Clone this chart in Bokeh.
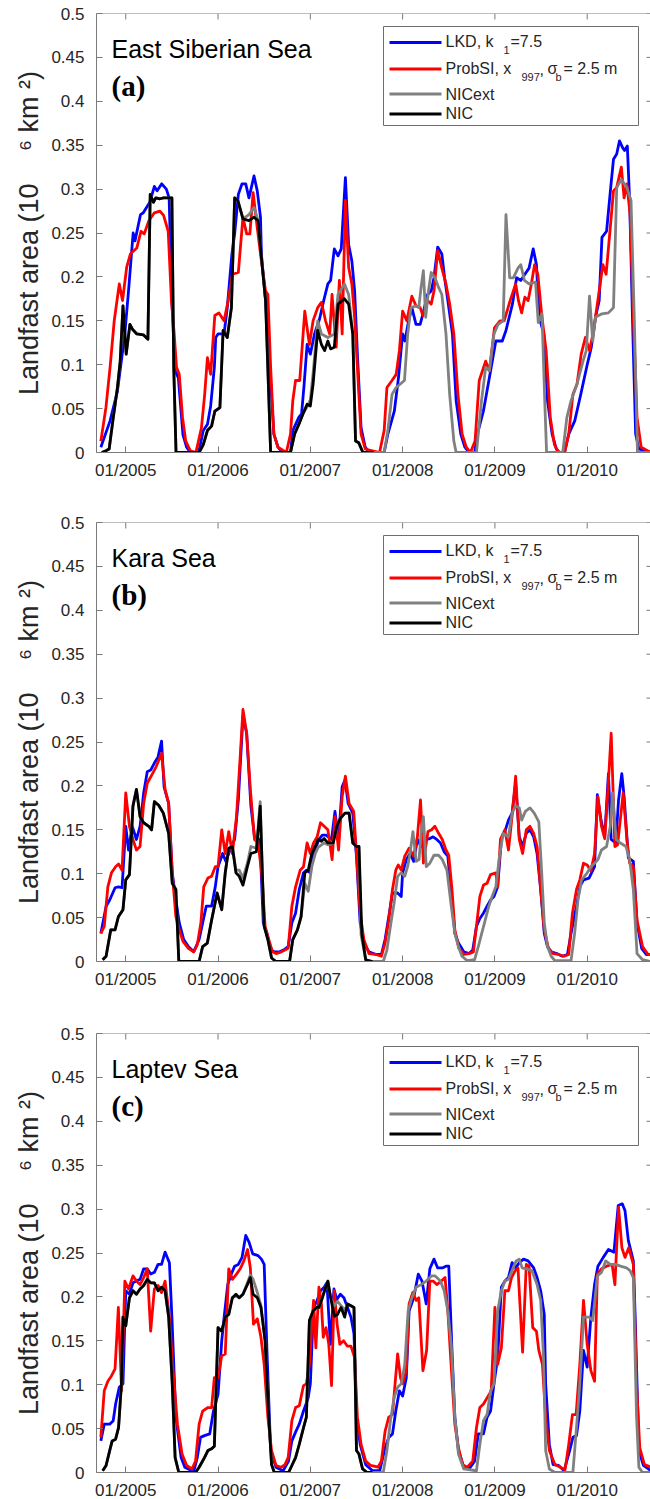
from bokeh.plotting import figure
from bokeh.models import Range1d, FixedTicker, Span
from bokeh.core.properties import value
from bokeh.layouts import column
from bokeh.embed import file_html
from bokeh.resources import INLINE

# ---------------- tick labels / names ----------------
YEAR_TICKS = [2005, 2006, 2007, 2008, 2009, 2010]
YEAR_LABELS = ["01/2005", "01/2006", "01/2007", "01/2008", "01/2009", "01/2010"]
Y_TICKS = [0, 0.05, 0.1, 0.15, 0.2, 0.25, 0.3, 0.35, 0.4, 0.45, 0.5]
Y_LABELS = ["0", "0.05", "0.1", "0.15", "0.2", "0.25", "0.3", "0.35", "0.4", "0.45", "0.5"]
Y_TITLE = "Landfast area (10\u2003\u2009\u2076\u00a0km\u00a0\u00b2)"
PANEL_NAMES = ["East Siberian Sea", "Kara Sea", "Laptev Sea"]
PANEL_LETTERS = ["(a)", "(b)", "(c)"]

# ---------------- data: (decimal year, area 10^6 km^2) ----------------
ESS_LKD = [(2004.73, 0.006), (2004.83, 0.036), (2004.91, 0.07), (2004.99, 0.135), (2005.03, 0.184), (2005.08, 0.25),
           (2005.10, 0.241), (2005.16, 0.271), (2005.19, 0.273), (2005.26, 0.285), (2005.31, 0.303), (2005.34, 0.298),
           (2005.39, 0.306), (2005.44, 0.30), (2005.47, 0.29), (2005.50, 0.173), (2005.535, 0.093), (2005.57, 0.085),
           (2005.62, 0.02), (2005.66, 0.006), (2005.70, 0.0), (2005.79, 0.0), (2005.84, 0.025), (2005.885, 0.032),
           (2005.92, 0.053), (2005.96, 0.097), (2005.975, 0.131), (2006.0, 0.135), (2006.065, 0.135), (2006.10, 0.165),
           (2006.15, 0.226), (2006.18, 0.249), (2006.22, 0.294), (2006.26, 0.306), (2006.30, 0.306), (2006.335, 0.29),
           (2006.39, 0.315), (2006.425, 0.298), (2006.46, 0.268), (2006.47, 0.226), (2006.515, 0.173), (2006.56, 0.097),
           (2006.605, 0.021), (2006.65, 0.006), (2006.70, 0.0), (2006.785, 0.0), (2006.81, 0.025), (2006.875, 0.04),
           (2006.905, 0.044), (2006.93, 0.074), (2006.965, 0.123), (2007.0, 0.112), (2007.045, 0.135), (2007.10, 0.152),
           (2007.145, 0.173), (2007.19, 0.192), (2007.22, 0.196), (2007.26, 0.232), (2007.30, 0.224), (2007.335, 0.232),
           (2007.38, 0.313), (2007.415, 0.237), (2007.45, 0.218), (2007.48, 0.184), (2007.51, 0.112), (2007.55, 0.028),
           (2007.595, 0.006), (2007.64, 0.0), (2007.80, 0.0), (2007.84, 0.021), (2007.91, 0.047), (2007.955, 0.085),
           (2008.0, 0.135), (2008.025, 0.127), (2008.065, 0.15), (2008.10, 0.165), (2008.145, 0.146), (2008.19, 0.146),
           (2008.22, 0.158), (2008.27, 0.18), (2008.31, 0.184), (2008.34, 0.199), (2008.38, 0.234), (2008.425, 0.226),
           (2008.455, 0.199), (2008.49, 0.173), (2008.54, 0.135), (2008.58, 0.059), (2008.63, 0.021), (2008.675, 0.006),
           (2008.72, 0.0), (2008.78, 0.0), (2008.81, 0.021), (2008.875, 0.047), (2008.94, 0.085), (2009.01, 0.127),
           (2009.08, 0.127), (2009.12, 0.139), (2009.19, 0.169), (2009.235, 0.199), (2009.28, 0.196), (2009.325, 0.203),
           (2009.37, 0.21), (2009.415, 0.232), (2009.45, 0.214), (2009.48, 0.154), (2009.53, 0.135), (2009.57, 0.059),
           (2009.62, 0.021), (2009.665, 0.004), (2009.70, 0.0), (2009.755, 0.0), (2009.80, 0.021), (2009.865, 0.036),
           (2009.93, 0.066), (2010.0, 0.10), (2010.045, 0.12), (2010.09, 0.154), (2010.13, 0.173), (2010.16, 0.245),
           (2010.21, 0.252), (2010.255, 0.302), (2010.285, 0.334), (2010.32, 0.34), (2010.35, 0.355), (2010.385, 0.347),
           (2010.405, 0.344), (2010.435, 0.349), (2010.46, 0.287), (2010.495, 0.135), (2010.525, 0.021), (2010.56, 0.004),
           (2010.69, 0.0)]

ESS_PSI = [(2004.73, 0.013), (2004.785, 0.051), (2004.83, 0.097), (2004.875, 0.15), (2004.93, 0.192), (2004.965, 0.173),
           (2005.01, 0.211), (2005.05, 0.226), (2005.12, 0.233), (2005.165, 0.252), (2005.20, 0.249), (2005.25, 0.264),
           (2005.31, 0.273), (2005.37, 0.275), (2005.41, 0.27), (2005.46, 0.252), (2005.495, 0.173), (2005.525, 0.135),
           (2005.55, 0.097), (2005.58, 0.089), (2005.615, 0.04), (2005.65, 0.013), (2005.70, 0.002), (2005.76, 0.0),
           (2005.82, 0.028), (2005.855, 0.066), (2005.885, 0.108), (2005.92, 0.089), (2005.965, 0.156), (2006.01, 0.159),
           (2006.065, 0.15), (2006.11, 0.173), (2006.155, 0.203), (2006.22, 0.205), (2006.27, 0.268), (2006.31, 0.249),
           (2006.345, 0.249), (2006.38, 0.296), (2006.425, 0.256), (2006.47, 0.218), (2006.515, 0.184), (2006.54, 0.18),
           (2006.57, 0.097), (2006.605, 0.021), (2006.65, 0.006), (2006.74, 0.0), (2006.785, 0.021), (2006.81, 0.059),
           (2006.84, 0.082), (2006.885, 0.082), (2006.94, 0.161), (2006.99, 0.123), (2007.03, 0.15), (2007.08, 0.165),
           (2007.12, 0.171), (2007.165, 0.15), (2007.21, 0.135), (2007.235, 0.18), (2007.28, 0.12), (2007.315, 0.196),
           (2007.345, 0.135), (2007.38, 0.287), (2007.415, 0.211), (2007.45, 0.192), (2007.48, 0.154), (2007.51, 0.097),
           (2007.55, 0.021), (2007.595, 0.004), (2007.75, 0.0), (2007.80, 0.025), (2007.83, 0.074), (2007.885, 0.082),
           (2007.93, 0.089), (2007.965, 0.116), (2008.0, 0.161), (2008.045, 0.15), (2008.10, 0.178), (2008.145, 0.167),
           (2008.19, 0.165), (2008.22, 0.156), (2008.27, 0.173), (2008.31, 0.169), (2008.34, 0.184), (2008.38, 0.23),
           (2008.425, 0.21), (2008.47, 0.192), (2008.51, 0.169), (2008.555, 0.135), (2008.60, 0.066), (2008.645, 0.021),
           (2008.69, 0.006), (2008.735, 0.0), (2008.785, 0.013), (2008.83, 0.082), (2008.90, 0.104), (2008.94, 0.093),
           (2008.995, 0.142), (2009.055, 0.15), (2009.10, 0.15), (2009.165, 0.173), (2009.225, 0.192), (2009.255, 0.173),
           (2009.29, 0.159), (2009.325, 0.177), (2009.36, 0.173), (2009.395, 0.192), (2009.43, 0.214), (2009.465, 0.203),
           (2009.51, 0.154), (2009.555, 0.116), (2009.60, 0.04), (2009.645, 0.009), (2009.69, 0.0), (2009.755, 0.0),
           (2009.80, 0.021), (2009.845, 0.066), (2009.89, 0.078), (2009.935, 0.112), (2009.98, 0.131), (2010.025, 0.116),
           (2010.07, 0.139), (2010.115, 0.173), (2010.17, 0.214), (2010.205, 0.203), (2010.25, 0.256), (2010.285, 0.298),
           (2010.32, 0.302), (2010.37, 0.325), (2010.40, 0.29), (2010.43, 0.306), (2010.465, 0.271), (2010.50, 0.154),
           (2010.54, 0.04), (2010.585, 0.006), (2010.69, 0.0)]

ESS_NIC = [(2004.74, 0.0), (2004.785, 0.002), (2004.82, 0.004), (2004.86, 0.036), (2004.91, 0.074), (2004.94, 0.104),
           (2004.97, 0.167), (2005.005, 0.112), (2005.045, 0.146), (2005.075, 0.14), (2005.12, 0.135), (2005.19, 0.134),
           (2005.24, 0.129), (2005.265, 0.294), (2005.30, 0.285), (2005.325, 0.29), (2005.37, 0.289), (2005.41, 0.29),
           (2005.50, 0.29), (2005.52, 0.097), (2005.545, 0.0), (2005.795, 0.0), (2005.84, 0.009), (2005.885, 0.025),
           (2005.93, 0.03), (2005.965, 0.047), (2006.02, 0.051), (2006.055, 0.139), (2006.10, 0.131), (2006.145, 0.165),
           (2006.18, 0.29), (2006.215, 0.287), (2006.27, 0.266), (2006.335, 0.264), (2006.39, 0.268), (2006.435, 0.264),
           (2006.47, 0.222), (2006.515, 0.173), (2006.57, 0.0), (2006.785, 0.0), (2006.83, 0.021), (2006.875, 0.032),
           (2006.92, 0.044), (2006.965, 0.055), (2007.0, 0.053), (2007.03, 0.078), (2007.08, 0.139), (2007.12, 0.123),
           (2007.155, 0.116), (2007.19, 0.127), (2007.22, 0.118), (2007.26, 0.12), (2007.30, 0.169), (2007.37, 0.175),
           (2007.415, 0.169), (2007.46, 0.135), (2007.49, 0.013), (2007.525, 0.011), (2007.57, 0.0), (2007.685, 0.0)]

ESS_EXT = [(2004.74, 0.0), (2004.785, 0.002), (2004.82, 0.004), (2004.86, 0.036), (2004.91, 0.074), (2004.94, 0.104),
           (2004.97, 0.167), (2005.005, 0.112), (2005.045, 0.146), (2005.075, 0.14), (2005.12, 0.135), (2005.19, 0.134),
           (2005.24, 0.129), (2005.265, 0.294), (2005.30, 0.285), (2005.325, 0.29), (2005.37, 0.289), (2005.41, 0.29),
           (2005.50, 0.29), (2005.52, 0.097), (2005.545, 0.0), (2005.795, 0.0), (2005.84, 0.009), (2005.885, 0.025),
           (2005.93, 0.03), (2005.965, 0.047), (2006.02, 0.051), (2006.055, 0.139), (2006.10, 0.131), (2006.145, 0.165),
           (2006.18, 0.29), (2006.215, 0.287), (2006.27, 0.266), (2006.335, 0.271), (2006.39, 0.279), (2006.435, 0.264),
           (2006.47, 0.222), (2006.515, 0.173), (2006.57, 0.0), (2006.785, 0.0), (2006.83, 0.021), (2006.875, 0.032),
           (2006.92, 0.044), (2006.965, 0.052), (2007.0, 0.06), (2007.03, 0.09), (2007.08, 0.15), (2007.12, 0.135),
           (2007.19, 0.131), (2007.26, 0.135), (2007.30, 0.18), (2007.37, 0.192), (2007.415, 0.18), (2007.46, 0.135),
           (2007.49, 0.013), (2007.525, 0.011), (2007.57, 0.0), (2007.80, 0.0), (2007.84, 0.025), (2007.885, 0.066),
           (2007.93, 0.074), (2007.975, 0.078), (2008.02, 0.082), (2008.055, 0.135), (2008.09, 0.165), (2008.145, 0.167),
           (2008.175, 0.165), (2008.20, 0.188), (2008.225, 0.207), (2008.25, 0.154), (2008.28, 0.184), (2008.31, 0.205),
           (2008.35, 0.199), (2008.39, 0.188), (2008.425, 0.18), (2008.47, 0.135), (2008.51, 0.066), (2008.555, 0.013),
           (2008.58, 0.0), (2008.80, 0.0), (2008.855, 0.059), (2008.90, 0.097), (2008.94, 0.093), (2008.99, 0.135),
           (2009.035, 0.146), (2009.09, 0.15), (2009.12, 0.271), (2009.16, 0.199), (2009.20, 0.199), (2009.25, 0.21),
           (2009.28, 0.214), (2009.32, 0.196), (2009.37, 0.192), (2009.44, 0.194), (2009.47, 0.148), (2009.51, 0.158),
           (2009.54, 0.059), (2009.56, 0.0), (2009.735, 0.0), (2009.78, 0.04), (2009.825, 0.059), (2009.89, 0.078),
           (2009.955, 0.104), (2009.99, 0.116), (2010.025, 0.178), (2010.06, 0.127), (2010.09, 0.154), (2010.16, 0.158),
           (2010.23, 0.159), (2010.285, 0.165), (2010.32, 0.302), (2010.37, 0.311), (2010.43, 0.302), (2010.475, 0.287),
           (2010.51, 0.154), (2010.545, 0.0), (2010.69, 0.0)]

KARA_LKD = [(2004.73, 0.032), (2004.787, 0.063), (2004.826, 0.07), (2004.884, 0.084), (2004.922, 0.085), (2004.96, 0.084),
            (2005.0, 0.154), (2005.03, 0.127), (2005.07, 0.154), (2005.116, 0.139), (2005.155, 0.154), (2005.194, 0.192),
            (2005.233, 0.216), (2005.27, 0.218), (2005.31, 0.226), (2005.35, 0.233), (2005.388, 0.251), (2005.415, 0.199),
            (2005.465, 0.18), (2005.504, 0.101), (2005.543, 0.07), (2005.58, 0.044), (2005.628, 0.025), (2005.678, 0.017),
            (2005.736, 0.011), (2005.795, 0.025), (2005.833, 0.044), (2005.872, 0.063), (2005.93, 0.063), (2005.97, 0.085),
            (2006.0, 0.108), (2006.05, 0.123), (2006.085, 0.114), (2006.143, 0.131), (2006.18, 0.139), (2006.22, 0.184),
            (2006.27, 0.279), (2006.31, 0.26), (2006.356, 0.177), (2006.395, 0.142), (2006.453, 0.139), (2006.49, 0.044),
            (2006.53, 0.032), (2006.57, 0.013), (2006.61, 0.011), (2006.667, 0.011), (2006.725, 0.014), (2006.76, 0.017),
            (2006.80, 0.044), (2006.84, 0.055), (2006.88, 0.082), (2006.926, 0.101), (2006.957, 0.104), (2007.0, 0.101),
            (2007.035, 0.123), (2007.093, 0.139), (2007.13, 0.144), (2007.17, 0.144), (2007.23, 0.139), (2007.267, 0.171),
            (2007.306, 0.139), (2007.345, 0.199), (2007.376, 0.207), (2007.41, 0.18), (2007.46, 0.169), (2007.50, 0.12),
            (2007.54, 0.044), (2007.58, 0.021), (2007.635, 0.011), (2007.713, 0.008), (2007.77, 0.008), (2007.81, 0.025),
            (2007.85, 0.051), (2007.89, 0.078), (2007.946, 0.078), (2007.985, 0.074), (2008.0, 0.101), (2008.04, 0.116),
            (2008.08, 0.123), (2008.12, 0.114), (2008.16, 0.139), (2008.2, 0.131), (2008.255, 0.139), (2008.295, 0.14),
            (2008.33, 0.142), (2008.37, 0.139), (2008.41, 0.135), (2008.45, 0.125), (2008.49, 0.12), (2008.527, 0.078),
            (2008.566, 0.032), (2008.605, 0.021), (2008.663, 0.011), (2008.72, 0.009), (2008.76, 0.013), (2008.8, 0.04),
            (2008.837, 0.049), (2008.876, 0.055), (2008.915, 0.063), (2008.953, 0.07), (2008.99, 0.074), (2009.03, 0.085),
            (2009.07, 0.139), (2009.108, 0.148), (2009.147, 0.161), (2009.186, 0.169), (2009.225, 0.203), (2009.264, 0.142),
            (2009.3, 0.131), (2009.34, 0.146), (2009.38, 0.15), (2009.42, 0.142), (2009.457, 0.123), (2009.496, 0.082),
            (2009.535, 0.032), (2009.57, 0.017), (2009.61, 0.011), (2009.67, 0.009), (2009.73, 0.006), (2009.786, 0.008),
            (2009.825, 0.032), (2009.884, 0.063), (2009.92, 0.085), (2009.96, 0.093), (2010.02, 0.095), (2010.08, 0.108),
            (2010.11, 0.19), (2010.15, 0.161), (2010.19, 0.142), (2010.23, 0.214), (2010.26, 0.139), (2010.31, 0.135),
            (2010.34, 0.184), (2010.375, 0.214), (2010.4, 0.188), (2010.446, 0.118), (2010.5, 0.114), (2010.54, 0.044),
            (2010.59, 0.015), (2010.64, 0.008), (2010.69, 0.008)]

KARA_PSI = [(2004.73, 0.032), (2004.767, 0.04), (2004.806, 0.085), (2004.845, 0.101), (2004.89, 0.108), (2004.922, 0.111),
            (2004.96, 0.104), (2005.0, 0.192), (2005.04, 0.154), (2005.078, 0.139), (2005.116, 0.127), (2005.155, 0.131),
            (2005.194, 0.18), (2005.233, 0.203), (2005.29, 0.214), (2005.33, 0.222), (2005.388, 0.237), (2005.426, 0.196),
            (2005.465, 0.18), (2005.504, 0.101), (2005.543, 0.051), (2005.58, 0.036), (2005.62, 0.023), (2005.678, 0.015),
            (2005.736, 0.011), (2005.775, 0.019), (2005.814, 0.044), (2005.845, 0.085), (2005.89, 0.095), (2005.93, 0.097),
            (2005.97, 0.108), (2006.0, 0.108), (2006.04, 0.15), (2006.078, 0.123), (2006.116, 0.148), (2006.155, 0.123),
            (2006.2, 0.165), (2006.24, 0.233), (2006.27, 0.287), (2006.31, 0.26), (2006.35, 0.196), (2006.395, 0.139),
            (2006.434, 0.135), (2006.473, 0.101), (2006.51, 0.04), (2006.55, 0.025), (2006.59, 0.011), (2006.628, 0.009),
            (2006.686, 0.011), (2006.725, 0.013), (2006.76, 0.015), (2006.80, 0.063), (2006.84, 0.085), (2006.89, 0.104),
            (2006.926, 0.108), (2006.965, 0.135), (2007.0, 0.123), (2007.035, 0.135), (2007.074, 0.142), (2007.11, 0.158),
            (2007.15, 0.154), (2007.19, 0.15), (2007.236, 0.116), (2007.267, 0.165), (2007.306, 0.127), (2007.345, 0.188),
            (2007.38, 0.211), (2007.42, 0.18), (2007.47, 0.171), (2007.5, 0.123), (2007.54, 0.055), (2007.58, 0.025),
            (2007.635, 0.009), (2007.713, 0.008), (2007.77, 0.006), (2007.81, 0.021), (2007.85, 0.047), (2007.89, 0.082),
            (2007.926, 0.104), (2007.953, 0.11), (2007.985, 0.104), (2008.023, 0.12), (2008.07, 0.129), (2008.12, 0.12),
            (2008.16, 0.142), (2008.194, 0.184), (2008.225, 0.112), (2008.275, 0.148), (2008.314, 0.15), (2008.35, 0.154),
            (2008.39, 0.146), (2008.43, 0.139), (2008.47, 0.127), (2008.5, 0.121), (2008.535, 0.082), (2008.566, 0.036),
            (2008.61, 0.015), (2008.663, 0.008), (2008.72, 0.009), (2008.767, 0.011), (2008.8, 0.04), (2008.837, 0.074),
            (2008.876, 0.087), (2008.915, 0.089), (2008.953, 0.099), (2009.01, 0.101), (2009.03, 0.085), (2009.06, 0.139),
            (2009.108, 0.15), (2009.147, 0.127), (2009.186, 0.165), (2009.225, 0.211), (2009.264, 0.139), (2009.3, 0.123),
            (2009.34, 0.15), (2009.38, 0.154), (2009.42, 0.146), (2009.457, 0.131), (2009.496, 0.082), (2009.535, 0.036),
            (2009.58, 0.015), (2009.63, 0.009), (2009.69, 0.008), (2009.75, 0.006), (2009.8, 0.008), (2009.84, 0.055),
            (2009.884, 0.082), (2009.92, 0.093), (2009.96, 0.112), (2010.0, 0.11), (2010.04, 0.103), (2010.08, 0.123),
            (2010.116, 0.188), (2010.155, 0.154), (2010.19, 0.14), (2010.225, 0.196), (2010.26, 0.26), (2010.3, 0.131),
            (2010.33, 0.133), (2010.39, 0.192), (2010.43, 0.139), (2010.46, 0.112), (2010.5, 0.108), (2010.54, 0.047),
            (2010.6, 0.017), (2010.66, 0.008), (2010.69, 0.008)]

KARA_NIC = [(2004.75, 0.002), (2004.787, 0.006), (2004.837, 0.036), (2004.884, 0.036), (2004.92, 0.051), (2004.97, 0.059),
            (2005.0, 0.093), (2005.04, 0.099), (2005.078, 0.177), (2005.116, 0.196), (2005.155, 0.165), (2005.194, 0.158),
            (2005.25, 0.154), (2005.28, 0.15), (2005.31, 0.182), (2005.357, 0.178), (2005.407, 0.169), (2005.465, 0.146),
            (2005.504, 0.089), (2005.543, 0.082), (2005.575, 0.0), (2005.795, 0.0), (2005.833, 0.017), (2005.884, 0.021),
            (2005.93, 0.047), (2005.99, 0.078), (2006.04, 0.059), (2006.078, 0.101), (2006.116, 0.129), (2006.155, 0.131),
            (2006.194, 0.101), (2006.23, 0.097), (2006.27, 0.087), (2006.318, 0.108), (2006.356, 0.123), (2006.415, 0.125),
            (2006.457, 0.177), (2006.48, 0.101), (2006.5, 0.04), (2006.54, 0.025), (2006.58, 0.004), (2006.628, 0.0),
            (2006.775, 0.0), (2006.81, 0.025), (2006.86, 0.036), (2006.9, 0.051), (2006.94, 0.101), (2006.977, 0.104),
            (2007.016, 0.123), (2007.054, 0.131), (2007.085, 0.139), (2007.12, 0.137), (2007.15, 0.14), (2007.19, 0.135),
            (2007.248, 0.135), (2007.287, 0.154), (2007.325, 0.163), (2007.376, 0.169), (2007.42, 0.169), (2007.46, 0.135),
            (2007.5, 0.131), (2007.527, 0.131), (2007.558, 0.032), (2007.6, 0.002), (2007.674, 0.0)]

KARA_EXT = [(2004.75, 0.002), (2004.787, 0.006), (2004.837, 0.036), (2004.884, 0.036), (2004.92, 0.051), (2004.97, 0.059),
            (2005.0, 0.093), (2005.04, 0.099), (2005.078, 0.177), (2005.116, 0.196), (2005.155, 0.165), (2005.194, 0.158),
            (2005.25, 0.154), (2005.28, 0.15), (2005.31, 0.182), (2005.357, 0.178), (2005.407, 0.169), (2005.465, 0.146),
            (2005.504, 0.089), (2005.543, 0.082), (2005.575, 0.0), (2005.795, 0.0), (2005.833, 0.017), (2005.884, 0.021),
            (2005.93, 0.047), (2005.99, 0.078), (2006.04, 0.059), (2006.078, 0.101), (2006.116, 0.129), (2006.155, 0.131),
            (2006.194, 0.104), (2006.23, 0.104), (2006.27, 0.095), (2006.318, 0.112), (2006.356, 0.131), (2006.415, 0.129),
            (2006.457, 0.182), (2006.48, 0.101), (2006.5, 0.04), (2006.54, 0.025), (2006.58, 0.004), (2006.628, 0.0),
            (2006.775, 0.0), (2006.81, 0.025), (2006.86, 0.036), (2006.9, 0.051), (2006.94, 0.089), (2006.977, 0.08),
            (2007.016, 0.108), (2007.054, 0.123), (2007.085, 0.13), (2007.15, 0.135), (2007.19, 0.133), (2007.248, 0.135),
            (2007.287, 0.154), (2007.325, 0.163), (2007.376, 0.169), (2007.42, 0.169), (2007.46, 0.135), (2007.5, 0.131),
            (2007.527, 0.131), (2007.55, 0.03), (2007.6, 0.002), (2007.674, 0.0), (2007.79, 0.0), (2007.83, 0.013),
            (2007.868, 0.04), (2007.907, 0.066), (2007.946, 0.097), (2007.985, 0.101), (2008.023, 0.097), (2008.054, 0.108),
            (2008.08, 0.123), (2008.112, 0.148), (2008.147, 0.114), (2008.178, 0.116), (2008.2, 0.146), (2008.225, 0.165),
            (2008.256, 0.108), (2008.295, 0.112), (2008.34, 0.121), (2008.39, 0.121), (2008.43, 0.116), (2008.48, 0.104),
            (2008.527, 0.063), (2008.566, 0.032), (2008.605, 0.017), (2008.643, 0.006), (2008.7, 0.001), (2008.78, 0.002),
            (2008.82, 0.017), (2008.857, 0.032), (2008.895, 0.047), (2008.934, 0.063), (2008.97, 0.074), (2009.01, 0.085),
            (2009.05, 0.12), (2009.09, 0.146), (2009.147, 0.142), (2009.186, 0.169), (2009.225, 0.177), (2009.264, 0.175),
            (2009.29, 0.161), (2009.33, 0.171), (2009.38, 0.175), (2009.426, 0.169), (2009.476, 0.159), (2009.507, 0.101),
            (2009.535, 0.044), (2009.57, 0.017), (2009.61, 0.006), (2009.65, 0.001), (2009.825, 0.001), (2009.864, 0.032),
            (2009.9, 0.07), (2009.94, 0.093), (2010.0, 0.101), (2010.04, 0.108), (2010.08, 0.112), (2010.116, 0.116),
            (2010.155, 0.127), (2010.21, 0.131), (2010.25, 0.154), (2010.275, 0.192), (2010.314, 0.139), (2010.36, 0.135),
            (2010.42, 0.131), (2010.46, 0.116), (2010.5, 0.082), (2010.54, 0.009), (2010.6, 0.002), (2010.69, 0.0)]

LAP_LKD = [(2004.73, 0.036), (2004.767, 0.055), (2004.826, 0.055), (2004.864, 0.059), (2004.89, 0.078), (2004.93, 0.097),
           (2004.97, 0.101), (2005.0, 0.207), (2005.04, 0.203), (2005.078, 0.216), (2005.116, 0.218), (2005.155, 0.22),
           (2005.194, 0.232), (2005.233, 0.232), (2005.27, 0.226), (2005.31, 0.228), (2005.35, 0.237), (2005.388, 0.237),
           (2005.426, 0.251), (2005.473, 0.239), (2005.5, 0.177), (2005.543, 0.063), (2005.6, 0.017), (2005.64, 0.006),
           (2005.736, 0.001), (2005.775, 0.017), (2005.81, 0.04), (2005.853, 0.042), (2005.91, 0.044), (2005.95, 0.07),
           (2006.0, 0.089), (2006.04, 0.15), (2006.066, 0.177), (2006.105, 0.214), (2006.143, 0.226), (2006.18, 0.235),
           (2006.22, 0.237), (2006.26, 0.245), (2006.3, 0.27), (2006.337, 0.262), (2006.376, 0.249), (2006.434, 0.247),
           (2006.47, 0.243), (2006.5, 0.237), (2006.53, 0.139), (2006.57, 0.025), (2006.628, 0.006), (2006.705, 0.002),
           (2006.764, 0.013), (2006.8, 0.036), (2006.84, 0.046), (2006.88, 0.055), (2006.926, 0.07), (2006.977, 0.085),
           (2007.0, 0.101), (2007.035, 0.188), (2007.074, 0.196), (2007.11, 0.207), (2007.15, 0.211), (2007.18, 0.216),
           (2007.217, 0.146), (2007.256, 0.209), (2007.287, 0.197), (2007.325, 0.203), (2007.364, 0.199), (2007.403, 0.188),
           (2007.44, 0.177), (2007.473, 0.158), (2007.5, 0.063), (2007.54, 0.032), (2007.6, 0.009), (2007.674, 0.002),
           (2007.752, 0.002), (2007.81, 0.028), (2007.85, 0.04), (2007.89, 0.044), (2007.926, 0.07), (2007.965, 0.093),
           (2008.0, 0.087), (2008.04, 0.108), (2008.07, 0.184), (2008.12, 0.199), (2008.17, 0.226), (2008.21, 0.218),
           (2008.256, 0.192), (2008.295, 0.232), (2008.34, 0.243), (2008.38, 0.233), (2008.43, 0.233), (2008.47, 0.235),
           (2008.5, 0.235), (2008.535, 0.139), (2008.566, 0.063), (2008.605, 0.025), (2008.663, 0.006), (2008.72, 0.004),
           (2008.78, 0.013), (2008.82, 0.044), (2008.876, 0.044), (2008.915, 0.063), (2008.953, 0.07), (2008.99, 0.101),
           (2009.03, 0.131), (2009.07, 0.211), (2009.108, 0.218), (2009.147, 0.222), (2009.186, 0.239), (2009.225, 0.233),
           (2009.264, 0.239), (2009.31, 0.243), (2009.36, 0.241), (2009.42, 0.233), (2009.457, 0.222), (2009.496, 0.207),
           (2009.535, 0.18), (2009.55, 0.101), (2009.59, 0.032), (2009.63, 0.009), (2009.69, 0.008), (2009.75, 0.002),
           (2009.81, 0.025), (2009.845, 0.04), (2009.884, 0.042), (2009.92, 0.07), (2009.96, 0.139), (2010.0, 0.12),
           (2010.04, 0.177), (2010.08, 0.214), (2010.116, 0.235), (2010.174, 0.245), (2010.23, 0.254), (2010.29, 0.251),
           (2010.336, 0.304), (2010.38, 0.306), (2010.41, 0.298), (2010.446, 0.264), (2010.5, 0.241), (2010.52, 0.177),
           (2010.56, 0.025), (2010.61, 0.008), (2010.69, 0.002)]

LAP_PSI = [(2004.73, 0.04), (2004.767, 0.093), (2004.806, 0.104), (2004.845, 0.11), (2004.884, 0.118), (2004.92, 0.188),
           (2004.955, 0.093), (2004.99, 0.218), (2005.03, 0.209), (2005.078, 0.224), (2005.116, 0.218), (2005.155, 0.214),
           (2005.194, 0.222), (2005.233, 0.232), (2005.27, 0.161), (2005.31, 0.209), (2005.35, 0.213), (2005.388, 0.205),
           (2005.426, 0.218), (2005.473, 0.177), (2005.51, 0.12), (2005.56, 0.055), (2005.61, 0.021), (2005.66, 0.008),
           (2005.717, 0.004), (2005.756, 0.013), (2005.795, 0.055), (2005.833, 0.07), (2005.89, 0.074), (2005.93, 0.074),
           (2005.96, 0.108), (2006.0, 0.108), (2006.04, 0.133), (2006.078, 0.135), (2006.116, 0.232), (2006.155, 0.22),
           (2006.2, 0.226), (2006.24, 0.232), (2006.28, 0.241), (2006.32, 0.254), (2006.35, 0.233), (2006.384, 0.169),
           (2006.426, 0.175), (2006.465, 0.154), (2006.5, 0.123), (2006.54, 0.063), (2006.58, 0.025), (2006.628, 0.008),
           (2006.686, 0.006), (2006.725, 0.009), (2006.76, 0.017), (2006.8, 0.059), (2006.84, 0.074), (2006.88, 0.076),
           (2006.926, 0.099), (2006.957, 0.101), (2006.99, 0.123), (2007.035, 0.196), (2007.06, 0.142), (2007.093, 0.211),
           (2007.12, 0.192), (2007.14, 0.154), (2007.17, 0.165), (2007.2, 0.146), (2007.23, 0.099), (2007.26, 0.207),
           (2007.29, 0.169), (2007.32, 0.146), (2007.36, 0.15), (2007.4, 0.144), (2007.44, 0.144), (2007.48, 0.131),
           (2007.51, 0.063), (2007.55, 0.032), (2007.6, 0.013), (2007.655, 0.008), (2007.733, 0.006), (2007.77, 0.013),
           (2007.81, 0.047), (2007.85, 0.063), (2007.89, 0.066), (2007.915, 0.097), (2007.946, 0.135), (2007.977, 0.108),
           (2008.0, 0.101), (2008.04, 0.116), (2008.07, 0.192), (2008.11, 0.205), (2008.147, 0.196), (2008.175, 0.199),
           (2008.22, 0.116), (2008.26, 0.139), (2008.295, 0.218), (2008.33, 0.218), (2008.37, 0.214), (2008.42, 0.218),
           (2008.46, 0.222), (2008.49, 0.184), (2008.527, 0.12), (2008.566, 0.055), (2008.605, 0.028), (2008.65, 0.009),
           (2008.7, 0.006), (2008.76, 0.013), (2008.8, 0.051), (2008.837, 0.074), (2008.876, 0.078), (2008.915, 0.085),
           (2008.96, 0.093), (2009.0, 0.188), (2009.03, 0.123), (2009.07, 0.142), (2009.108, 0.207), (2009.147, 0.207),
           (2009.18, 0.222), (2009.22, 0.23), (2009.25, 0.233), (2009.3, 0.137), (2009.34, 0.237), (2009.37, 0.235),
           (2009.41, 0.165), (2009.45, 0.161), (2009.476, 0.139), (2009.515, 0.123), (2009.55, 0.063), (2009.59, 0.025),
           (2009.65, 0.009), (2009.71, 0.006), (2009.76, 0.003), (2009.8, 0.032), (2009.84, 0.066), (2009.88, 0.066),
           (2009.92, 0.123), (2009.96, 0.196), (2010.0, 0.146), (2010.04, 0.116), (2010.08, 0.104), (2010.11, 0.226),
           (2010.155, 0.232), (2010.21, 0.235), (2010.27, 0.237), (2010.3, 0.214), (2010.34, 0.302), (2010.376, 0.256),
           (2010.41, 0.245), (2010.45, 0.256), (2010.5, 0.237), (2010.535, 0.101), (2010.57, 0.028), (2010.62, 0.009),
           (2010.69, 0.006)]

LAP_NIC = [(2004.75, 0.002), (2004.787, 0.008), (2004.826, 0.025), (2004.853, 0.036), (2004.89, 0.038), (2004.922, 0.051),
           (2004.953, 0.101), (2004.97, 0.177), (2005.0, 0.167), (2005.04, 0.199), (2005.078, 0.207), (2005.116, 0.203),
           (2005.155, 0.209), (2005.194, 0.213), (2005.233, 0.22), (2005.27, 0.216), (2005.31, 0.216), (2005.35, 0.207),
           (2005.388, 0.211), (2005.426, 0.207), (2005.465, 0.177), (2005.504, 0.101), (2005.535, 0.017), (2005.575, 0.0),
           (2005.756, 0.0), (2005.795, 0.006), (2005.853, 0.017), (2005.89, 0.025), (2005.93, 0.027), (2005.96, 0.03),
           (2006.0, 0.165), (2006.04, 0.161), (2006.078, 0.177), (2006.116, 0.18), (2006.155, 0.199), (2006.194, 0.203),
           (2006.23, 0.199), (2006.27, 0.203), (2006.318, 0.214), (2006.35, 0.222), (2006.38, 0.203), (2006.426, 0.199),
           (2006.465, 0.188), (2006.51, 0.15), (2006.55, 0.063), (2006.58, 0.009), (2006.61, 0.0), (2006.764, 0.0),
           (2006.8, 0.008), (2006.84, 0.017), (2006.88, 0.032), (2006.926, 0.051), (2006.957, 0.063), (2006.99, 0.173),
           (2007.03, 0.184), (2007.066, 0.188), (2007.093, 0.188), (2007.124, 0.197), (2007.16, 0.209), (2007.19, 0.218),
           (2007.22, 0.199), (2007.26, 0.178), (2007.295, 0.18), (2007.333, 0.188), (2007.372, 0.177), (2007.403, 0.192),
           (2007.44, 0.19), (2007.473, 0.188), (2007.5, 0.025), (2007.527, 0.021), (2007.566, 0.004), (2007.616, 0.0),
           (2007.674, 0.0)]

LAP_EXT = [(2004.75, 0.002), (2004.787, 0.008), (2004.826, 0.025), (2004.853, 0.036), (2004.89, 0.038), (2004.922, 0.051),
           (2004.953, 0.101), (2004.97, 0.177), (2005.0, 0.167), (2005.04, 0.199), (2005.078, 0.207), (2005.116, 0.203),
           (2005.155, 0.209), (2005.194, 0.213), (2005.233, 0.22), (2005.27, 0.216), (2005.31, 0.216), (2005.35, 0.207),
           (2005.388, 0.211), (2005.426, 0.207), (2005.465, 0.177), (2005.504, 0.101), (2005.535, 0.017), (2005.575, 0.0),
           (2005.756, 0.0), (2005.795, 0.006), (2005.853, 0.017), (2005.89, 0.025), (2005.93, 0.027), (2005.96, 0.03),
           (2006.0, 0.165), (2006.04, 0.161), (2006.078, 0.177), (2006.116, 0.18), (2006.155, 0.199), (2006.194, 0.201),
           (2006.23, 0.199), (2006.27, 0.203), (2006.318, 0.216), (2006.35, 0.225), (2006.38, 0.22), (2006.426, 0.205),
           (2006.465, 0.19), (2006.51, 0.15), (2006.55, 0.063), (2006.58, 0.009), (2006.61, 0.0), (2006.764, 0.0),
           (2006.8, 0.008), (2006.84, 0.017), (2006.88, 0.032), (2006.926, 0.051), (2006.957, 0.063), (2006.99, 0.173),
           (2007.03, 0.184), (2007.066, 0.188), (2007.093, 0.188), (2007.124, 0.197), (2007.16, 0.209), (2007.19, 0.218),
           (2007.22, 0.199), (2007.26, 0.19), (2007.295, 0.195), (2007.333, 0.19), (2007.372, 0.185), (2007.403, 0.192),
           (2007.44, 0.19), (2007.473, 0.188), (2007.5, 0.025), (2007.527, 0.021), (2007.566, 0.004), (2007.616, 0.0),
           (2007.79, 0.0), (2007.83, 0.025), (2007.868, 0.059), (2007.907, 0.085), (2007.946, 0.097), (2007.985, 0.101),
           (2008.023, 0.123), (2008.06, 0.184), (2008.1, 0.199), (2008.147, 0.211), (2008.2, 0.214), (2008.256, 0.218),
           (2008.314, 0.224), (2008.35, 0.224), (2008.41, 0.218), (2008.45, 0.207), (2008.49, 0.184), (2008.527, 0.146),
           (2008.566, 0.063), (2008.605, 0.021), (2008.663, 0.004), (2008.8, 0.002), (2008.837, 0.032), (2008.876, 0.059),
           (2008.915, 0.066), (2008.953, 0.093), (2008.99, 0.101), (2009.03, 0.184), (2009.07, 0.207), (2009.108, 0.218),
           (2009.147, 0.22), (2009.186, 0.23), (2009.23, 0.241), (2009.264, 0.243), (2009.295, 0.233), (2009.34, 0.232),
           (2009.4, 0.23), (2009.457, 0.214), (2009.496, 0.196), (2009.527, 0.131), (2009.55, 0.025), (2009.59, 0.004),
           (2009.65, 0.0), (2009.845, 0.0), (2009.884, 0.051), (2009.92, 0.101), (2009.96, 0.177), (2010.02, 0.177),
           (2010.06, 0.173), (2010.11, 0.224), (2010.155, 0.228), (2010.2, 0.241), (2010.25, 0.237), (2010.31, 0.237),
           (2010.36, 0.235), (2010.426, 0.233), (2010.465, 0.23), (2010.5, 0.222), (2010.535, 0.063), (2010.56, 0.006),
           (2010.6, 0.0), (2010.69, 0.0)]

# ---------------- styling constants ----------------
BLUE, RED, GRAY, BLACK = "#0000ff", "#ff0000", "#808080", "#000000"
AXIS_COLOR = "#7a7a7a"
TEXT_COLOR = "#262626"
SANS = "Liberation Sans"
SERIF = "Liberation Serif"
FRAME_LEFT, FRAME_W, FRAME_H = 96, 554, 439
X0, X1 = 2004.683, 2010.686


def sx2d(px):
    """absolute canvas x-pixel -> data x"""
    return X0 + (px - FRAME_LEFT) * (X1 - X0) / FRAME_W


def sy2d(ry):
    """pixel offset below the frame top -> data y"""
    return 0.5 * (1.0 - ry / FRAME_H)


def add_text(p, px, ry, text, size, font=SANS, style="normal", color=TEXT_COLOR):
    p.text(x=[sx2d(px)], y=[sy2d(ry)], text=[text], text_font=value(font), text_font_size=value(f"{size}px"),
           text_font_style=style, text_baseline="middle", text_align="left", text_color=color)


def make_panel(name, letter, lkd, psi, ext, nic, top, bottom):
    p = figure(frame_width=FRAME_W, frame_height=FRAME_H,
               x_range=Range1d(X0, X1), y_range=Range1d(0, 0.5),
               output_backend="svg", toolbar_location=None,
               min_border_left=FRAME_LEFT, min_border_right=0,
               min_border_top=top, min_border_bottom=bottom)
    p.outline_line_color = None
    p.xgrid.visible = False
    p.ygrid.visible = False
    p.background_fill_color = "white"
    p.border_fill_color = "white"

    xa = p.xaxis[0]
    xa.ticker = FixedTicker(ticks=YEAR_TICKS)
    xa.major_label_overrides = {t: l for t, l in zip(YEAR_TICKS, YEAR_LABELS)}
    ya = p.yaxis[0]
    ya.ticker = FixedTicker(ticks=Y_TICKS)
    ya.major_label_overrides = {t: l for t, l in zip(Y_TICKS, Y_LABELS)}
    for ax in (xa, ya):
        ax.axis_line_color = AXIS_COLOR
        ax.major_tick_line_color = AXIS_COLOR
        ax.major_tick_in = 6
        ax.major_tick_out = 0
        ax.minor_tick_in = 0
        ax.minor_tick_out = 0
        ax.major_label_text_font = SANS
        ax.major_label_text_font_size = "17px"
        ax.major_label_text_color = TEXT_COLOR
    xa.major_label_standoff = 8
    ya.major_label_standoff = 12
    ya.axis_label = Y_TITLE
    ya.axis_label_text_font = SANS
    ya.axis_label_text_font_size = "27px"
    ya.axis_label_text_font_style = "normal"
    ya.axis_label_text_color = TEXT_COLOR
    ya.axis_label_standoff = 4

    # box: top border line with inward ticks, right-edge tick stubs
    p.add_layout(Span(location=0.5, dimension="width", line_color=AXIS_COLOR, line_width=1))
    p.segment(x0=YEAR_TICKS, x1=YEAR_TICKS, y0=[0.5] * len(YEAR_TICKS), y1=[sy2d(6)] * len(YEAR_TICKS),
              line_color=AXIS_COLOR, line_width=1)
    p.segment(x0=[sx2d(646)] * len(Y_TICKS), x1=[X1] * len(Y_TICKS), y0=Y_TICKS, y1=Y_TICKS,
              line_color=AXIS_COLOR, line_width=1)

    for data, color in ((lkd, BLUE), (psi, RED), (ext, GRAY), (nic, BLACK)):
        t = [a for a, b in data]
        v = [b for a, b in data]
        p.line(t, v, line_color=color, line_width=2.8, line_join="round")

    # legend box
    p.quad(left=[sx2d(383)], right=[sx2d(638)], top=[sy2d(13)], bottom=[sy2d(112)],
           fill_color="white", line_color="#6e6e6e", line_width=1)
    for ry, color in ((29, BLUE), (55.5, RED), (80.5, GRAY), (100.5, BLACK)):
        p.segment(x0=[sx2d(389)], x1=[sx2d(441)], y0=[sy2d(ry)], y1=[sy2d(ry)], line_color=color, line_width=3)
    add_text(p, 445, 27.5, "LKD, k", 16)
    add_text(p, 503, 36.5, "1", 11)
    add_text(p, 510, 27.5, "=7.5", 16)
    add_text(p, 445, 55, "ProbSI, x", 16)
    add_text(p, 521, 63, "997", 11)
    add_text(p, 539, 55, ",", 16)
    add_text(p, 547, 55, "\u03c3", 16)
    add_text(p, 555, 63, "b", 11)
    add_text(p, 563, 55, "= 2.5 m", 16)
    add_text(p, 445, 80.5, "NICext", 16)
    add_text(p, 445, 100, "NIC", 16)

    # panel title and letter
    add_text(p, 111, 35, name, 25, color="black")
    add_text(p, 111, 72, letter, 29, font=SERIF, style="bold", color="black")
    return p


pa = make_panel(PANEL_NAMES[0], PANEL_LETTERS[0], ESS_LKD, ESS_PSI, ESS_EXT, ESS_NIC, 13, 58)
pb = make_panel(PANEL_NAMES[1], PANEL_LETTERS[1], KARA_LKD, KARA_PSI, KARA_EXT, KARA_NIC, 12, 59)
pc = make_panel(PANEL_NAMES[2], PANEL_LETTERS[2], LAP_LKD, LAP_PSI, LAP_EXT, LAP_NIC, 13, 27)

layout = column(pa, pb, pc, spacing=0)
open("out.html", "w").write(file_html(layout, INLINE))
